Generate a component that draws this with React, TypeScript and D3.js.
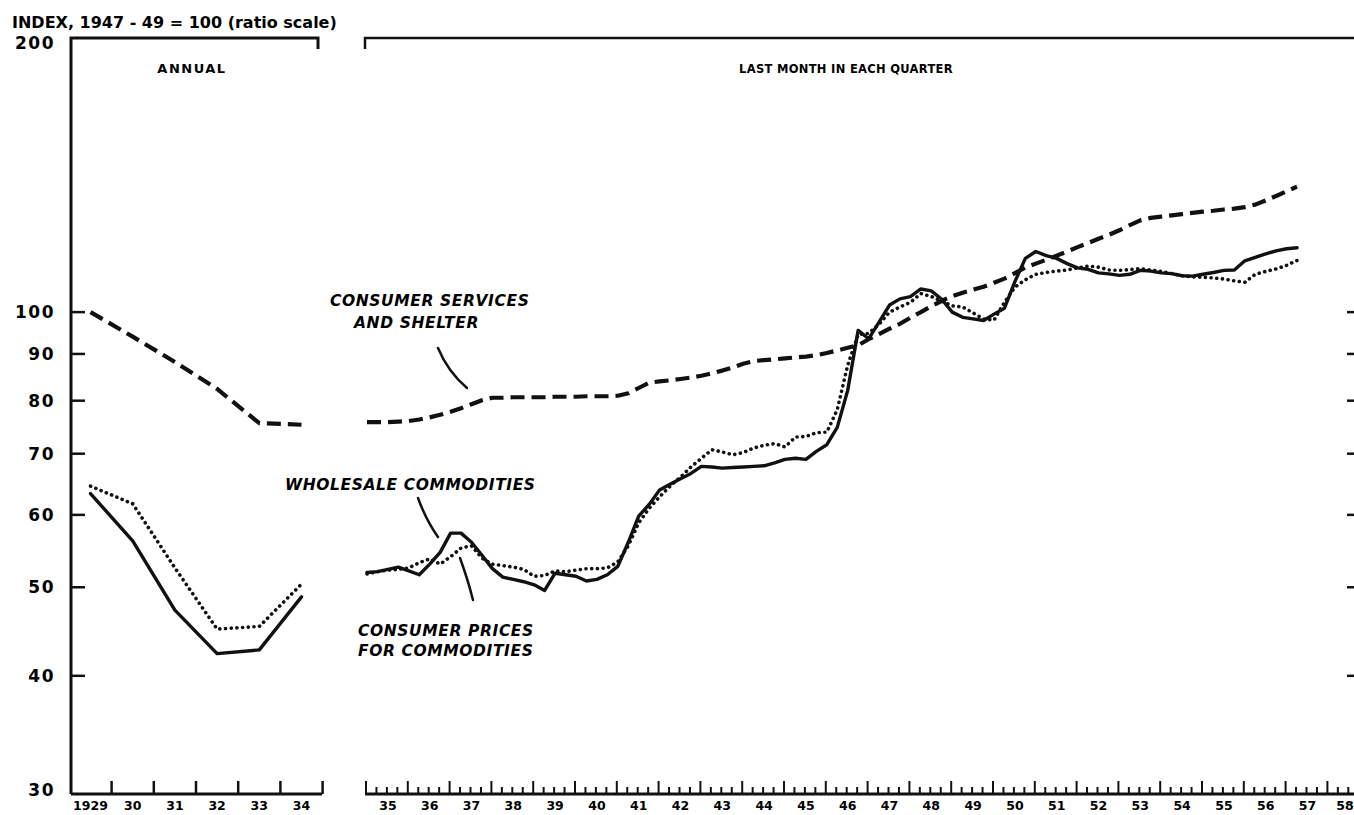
import * as d3 from "d3";
import { useRef, useEffect } from "react";

const WIDTH = 1354;
const HEIGHT = 815;

// annual panel, 1929-34
const ANNUAL_YEARS = [1929, 1930, 1931, 1932, 1933, 1934];
const ANNUAL_LABELS = ["1929", "30", "31", "32", "33", "34"];
const ANNUAL_SERVICES = [100, 94.0, 88.2, 82.4, 75.6, 75.3];
const ANNUAL_WHOLESALE = [63.3, 56.2, 47.2, 42.3, 42.7, 48.8];
const ANNUAL_CONS_COMMOD = [64.5, 61.7, 52.5, 45.0, 45.3, 50.4];

// quarterly panel, 1935 Q1 .. 1957 Q2 (last month in each quarter)
const Q_START = 1935;
const Q_SERVICES = [
  75.8, 75.8, 75.8, 75.9, 76.0, 76.3, 76.7, 77.2, 77.8, 78.5, 79.3, 80.1,
  80.6, 80.6, 80.7, 80.7, 80.7, 80.7, 80.8, 80.8, 80.8, 80.9, 80.9, 80.9,
  81.0, 81.5, 82.6, 83.7, 84.0, 84.2, 84.5, 84.8, 85.2, 85.7, 86.3, 87.0,
  87.8, 88.4, 88.6, 88.8, 89.0, 89.2, 89.4, 89.7, 90.2, 90.8, 91.4, 92.0,
  93.4, 94.6, 95.9, 97.1, 98.6, 100.0, 101.5, 102.9, 104.1, 105.0, 105.8, 106.6,
  107.7, 108.8, 110.3, 111.9, 113.0, 114.1, 115.3, 116.5, 117.8, 119.0, 120.3, 121.5,
  122.9, 124.5, 126.0, 126.8, 127.2, 127.6, 128.0, 128.4, 128.8, 129.1, 129.5, 129.8,
  130.3, 131.1, 132.5, 134.0, 135.6, 137.2,
];
const Q_WHOLESALE = [
  51.9, 52.0, 52.3, 52.6, 52.1, 51.6, 53.0, 54.6, 57.3, 57.3, 56.0, 54.2,
  52.4, 51.3, 51.0, 50.7, 50.3, 49.6, 51.8, 51.6, 51.4, 50.8, 51.0, 51.6,
  52.7, 56.0, 59.8, 61.6, 63.9, 64.8, 65.7, 66.6, 67.8, 67.7, 67.5, 67.6,
  67.7, 67.8, 67.9, 68.4, 69.0, 69.2, 69.0, 70.4, 71.6, 74.8, 82.1, 95.5,
  93.5, 97.5, 101.8, 103.4, 104.0, 106.0, 105.5, 103.3, 100.0, 98.7, 98.3, 97.9,
  99.5, 101.0, 108.0, 114.5, 116.5, 115.3, 114.5, 113.0, 111.8, 111.4, 110.4, 110.1,
  109.7, 110.0, 111.1, 110.9, 110.4, 110.2, 109.6, 109.5, 110.0, 110.5, 111.1, 111.2,
  113.8, 114.8, 115.8, 116.7, 117.3, 117.6,
];
const Q_CONS_COMMOD = [
  51.7, 52.0, 52.2, 52.3, 52.5, 53.2, 53.7, 53.0, 54.0, 55.2, 55.5, 53.8,
  53.0, 52.8, 52.6, 52.3, 51.4, 51.5, 52.1, 52.0, 52.2, 52.4, 52.4, 52.5,
  53.3, 55.5, 58.8, 61.0, 62.8, 64.5, 66.0, 67.7, 69.2, 70.7, 70.3, 69.8,
  70.2, 71.0, 71.5, 71.8, 71.2, 73.0, 73.1, 73.8, 73.9, 78.2, 87.5, 94.5,
  94.8, 97.0, 100.0, 101.3, 102.5, 104.8, 104.0, 102.8, 101.6, 101.3, 99.8, 98.3,
  98.0, 102.5, 106.5, 108.5, 110.0, 110.5, 110.9, 111.2, 111.8, 112.3, 112.0, 111.2,
  111.1, 111.3, 111.6, 111.2, 110.8, 110.2, 109.6, 109.3, 109.2, 109.0, 108.7, 108.2,
  107.8, 110.0, 110.8, 111.5, 112.5, 113.9,
];

const Y_TICKS = [200, 100, 90, 80, 70, 60, 50, 40, 30];
const Q_YEARS = d3.range(1935, 1959);
const Q_LABELS = Q_YEARS.map((y) => String(y).slice(2));

const FONT = "'DejaVu Sans', Verdana, sans-serif";

export default function App() {
  const svgRef = useRef(null);

  useEffect(() => {
    const svg = d3.select(svgRef.current);
    svg.selectAll("*").remove();

    const y = d3.scaleLog().domain([30, 200]).range([790, 37]);
    const xL = d3.scaleLinear().domain([1929, 1934]).range([90.5, 301.5]);
    const xR = d3.scaleLinear().domain([1935, 1958]).range([367, 367 + 41.8 * 23]);

    const top = 38;
    const base = 794;

    const stroke = (sel) => sel.attr("stroke", "#111").attr("fill", "none");

    // frame - left panel
    svg.append("path").call(stroke).attr("stroke-width", 3)
      .attr("d", `M71,${base} V${top} H318 V${top + 11}`);
    svg.append("line").call(stroke).attr("stroke-width", 3)
      .attr("x1", 71).attr("x2", 322).attr("y1", base).attr("y2", base);
    // frame - right panel
    svg.append("path").call(stroke).attr("stroke-width", 2.5)
      .attr("d", `M365,${top + 11} V${top} H${WIDTH}`);
    svg.append("line").call(stroke).attr("stroke-width", 3)
      .attr("x1", 365).attr("x2", WIDTH).attr("y1", base).attr("y2", base);

    // y ticks, left and right edge
    const inner = Y_TICKS.filter((v) => v < 200 && v > 30);
    svg.append("g").selectAll("line").data(inner).join("line").call(stroke)
      .attr("stroke-width", 2.5)
      .attr("x1", 71).attr("x2", 85).attr("y1", (d) => y(d)).attr("y2", (d) => y(d));
    svg.append("g").selectAll("line").data(inner).join("line").call(stroke)
      .attr("stroke-width", 2.5)
      .attr("x1", 1347).attr("x2", WIDTH).attr("y1", (d) => y(d)).attr("y2", (d) => y(d));

    svg.append("g").selectAll("text").data(Y_TICKS).join("text")
      .attr("x", 55).attr("y", (d) => Math.max(y(d), 43))
      .attr("dy", "0.36em").attr("text-anchor", "end")
      .attr("font-family", FONT).attr("font-weight", "bold").attr("font-size", 17)
      .attr("letter-spacing", 1.5)
      .text((d) => d);

    // x axis - annual
    svg.append("g").selectAll("line").data(ANNUAL_YEARS).join("line").call(stroke)
      .attr("stroke-width", 2.5)
      .attr("x1", (d) => xL(d + 0.5)).attr("x2", (d) => xL(d + 0.5))
      .attr("y1", base).attr("y2", base - 13);
    svg.append("g").selectAll("text").data(ANNUAL_YEARS).join("text")
      .attr("x", (d) => xL(d)).attr("y", 810)
      .attr("text-anchor", "middle")
      .attr("font-family", FONT).attr("font-weight", "bold").attr("font-size", 12.5)
      .text((d, i) => ANNUAL_LABELS[i]);

    // x axis - quarterly
    const qTicks = d3.range(0, 24 * 4).map((i) => Q_START + i / 4).filter((t) => xR(t) <= WIDTH);
    svg.append("g").selectAll("line").data(qTicks).join("line").call(stroke)
      .attr("stroke-width", 2)
      .attr("x1", (d) => xR(d) - 1).attr("x2", (d) => xR(d) - 1)
      .attr("y1", base)
      .attr("y2", (d) => (Number.isInteger(d) ? base - 13 : base - 7));
    svg.append("g").selectAll("text").data(Q_YEARS).join("text")
      .attr("x", (d) => Math.min(xR(d + 0.5), WIDTH - 9)).attr("y", 810)
      .attr("text-anchor", "middle")
      .attr("font-family", FONT).attr("font-weight", "bold").attr("font-size", 12.5)
      .text((d, i) => Q_LABELS[i]);

    // titles
    svg.append("text").attr("x", 12).attr("y", 28)
      .attr("font-family", FONT).attr("font-weight", "bold").attr("font-size", 16)
      .text("INDEX, 1947 - 49 = 100 (ratio scale)");
    svg.append("text").attr("x", 192).attr("y", 73).attr("text-anchor", "middle")
      .attr("font-family", FONT).attr("font-weight", "bold").attr("font-size", 13)
      .attr("letter-spacing", 1.5).text("ANNUAL");
    svg.append("text").attr("x", 846).attr("y", 73).attr("text-anchor", "middle")
      .attr("font-family", FONT).attr("font-weight", "bold").attr("font-size", 11.5)
      .attr("letter-spacing", 0.3).text("LAST MONTH IN EACH QUARTER");

    // series
    const series = [
      { key: "services", annual: ANNUAL_SERVICES, q: Q_SERVICES, dash: "14 7", width: 4.2, cap: "butt" },
      { key: "wholesale", annual: ANNUAL_WHOLESALE, q: Q_WHOLESALE, dash: null, width: 3.4, cap: "round" },
      { key: "consumer", annual: ANNUAL_CONS_COMMOD, q: Q_CONS_COMMOD, dash: "0.1 5.6", width: 3.6, cap: "round" },
    ];

    const lineL = d3.line().x((d) => xL(d[0])).y((d) => y(d[1]));
    const lineR = d3.line().x((d) => xR(d[0])).y((d) => y(d[1]));

    series.forEach((s) => {
      const a = ANNUAL_YEARS.map((yr, i) => [yr, s.annual[i]]);
      const q = s.q.map((v, i) => [Q_START + i / 4, v]);
      [lineL(a), lineR(q)].forEach((d) => {
        svg.append("path").call(stroke)
          .attr("d", d)
          .attr("stroke-width", s.width)
          .attr("stroke-linejoin", "round")
          .attr("stroke-linecap", s.cap)
          .attr("stroke-dasharray", s.dash);
      });
    });

    // annotations
    const note = (x, yy, txt) =>
      svg.append("text").attr("x", x).attr("y", yy)
        .attr("font-family", FONT).attr("font-weight", "bold").attr("font-style", "italic")
        .attr("font-size", 15.5).attr("letter-spacing", 0.6).text(txt);
    note(330, 306, "CONSUMER SERVICES");
    note(354, 328, "AND SHELTER");
    note(285, 490, "WHOLESALE  COMMODITIES");
    note(358, 636, "CONSUMER PRICES");
    note(358, 656, "FOR COMMODITIES");

    const leaders = [
      "M438,348 Q448,372 467,388",
      "M418,498 Q426,520 438,537",
      "M460,558 Q468,580 473,600",
    ];
    svg.append("g").selectAll("path").data(leaders).join("path").call(stroke)
      .attr("stroke-width", 2.5).attr("stroke-linecap", "round").attr("d", (d) => d);
  }, []);

  return (
    <svg
      ref={svgRef}
      width={WIDTH}
      height={HEIGHT}
      style={{ position: "absolute", left: 0, top: 0, background: "#fff" }}
    />
  );
}
